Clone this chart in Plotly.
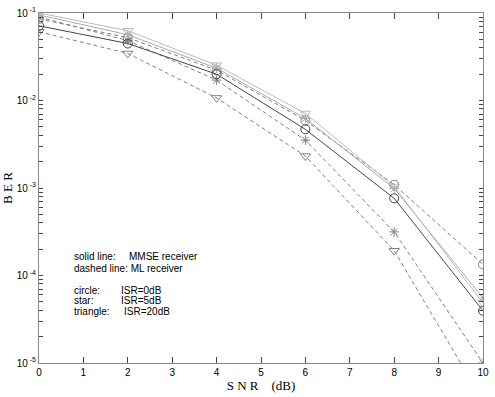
import plotly.graph_objects as go

snr = [0, 2, 4, 6, 8, 10]

mmse_isr0 = [0.0714, 0.0448, 0.0200, 0.00468, 0.000762, 3.95e-5]
mmse_isr5 = [0.095, 0.0565, 0.0234, 0.00623, 0.000987, 5.54e-5]
mmse_isr20 = [0.100, 0.0627, 0.0253, 0.0071, 0.00104, 4.87e-5]
ml_isr0 = [0.0856, 0.0523, 0.0222, 0.00591, 0.00109, 0.000134]
ml_isr5 = [0.090, 0.0484, 0.0171, 0.00352, 0.000315, 1.0e-5]
ml_isr20 = [0.0611, 0.0345, 0.0107, 0.00232, 0.000192, 3.7e-6]

ytick_vals = [1e-1, 1e-2, 1e-3, 1e-4, 1e-5]
ytick_text = ["10<sup> -1</sup>", "10<sup> -2</sup>", "10<sup> -3</sup>", "10<sup> -4</sup>", "10<sup> -5</sup>"]
ytick_minor = [k * 10.0 ** e for e in range(-5, -1) for k in range(2, 10)]
xtick_vals = list(range(0, 11))

series = [
    (ml_isr0, "dash", "#808080", "circle-open", 9),
    (ml_isr5, "dash", "#808080", "asterisk-open", 8),
    (ml_isr20, "dash", "#808080", "triangle-down-open", 9),
    (mmse_isr5, "solid", "#aaaaaa", "asterisk-open", 8),
    (mmse_isr20, "solid", "#bbbbbb", "triangle-down-open", 9),
    (mmse_isr0, "solid", "#444444", "circle-open", 9),
]

fig = go.Figure()
for ys, dash, color, sym, size in series:
    fig.add_trace(go.Scatter(
        x=snr, y=ys, mode="lines+markers",
        line=dict(color=color, width=1, dash=dash if dash == "solid" else "4px,3px"),
        marker=dict(symbol=sym, size=size, color=color, line=dict(color=color, width=1)),
        showlegend=False,
    ))

axis_common = dict(
    showline=True, linecolor="#888888", linewidth=1, mirror="allticks",
    ticks="inside", tickcolor="#444444", tickwidth=1, showgrid=False, zeroline=False,
    layer="above traces",
    tickfont=dict(family="Liberation Sans, Arial", size=10, color="black"),
)

fig.update_xaxes(range=[0, 10], tickvals=xtick_vals, ticklen=6,
                 title=dict(text="S&nbsp;N&nbsp;R&nbsp;&nbsp;&nbsp;&nbsp;(dB)", font=dict(family="Liberation Serif, Times New Roman", size=13, color="black"), standoff=2),
                 **axis_common)

all_y_ticks = ytick_vals + ytick_minor
all_y_text = ytick_text + [""] * len(ytick_minor)
fig.update_yaxes(type="log", range=[-5, -1], tickvals=all_y_ticks, ticktext=all_y_text, ticklen=4,
                 title=dict(text="B E R", font=dict(family="Liberation Serif, Times New Roman", size=13, color="black"), standoff=2),
                 **axis_common)

tf = dict(family="Liberation Sans, Arial", size=10, color="black")
labels = [
    ("solid line:", "MMSE receiver", 255, 127),
    ("dashed line:", "ML receiver", 267, None),
    ("circle:", "ISR=0dB", 289, 118),
    ("star:", "ISR=5dB", 300, 118),
    ("triangle:", "ISR=20dB", 311, 121),
]

W, H = 495, 397
L, R, T, B = 37, 6, 8, 34
pw, ph = W - L - R, H - T - B

def px(xp):
    return (xp - L) / pw

def py(yp):
    return 1 - (yp - T) / ph

for lab, val, ypx, xval in labels:
    if xval is None:
        fig.add_annotation(x=px(71), y=py(ypx), xref="paper", yref="paper",
                           text=lab + " " + val, showarrow=False, xanchor="left",
                           yanchor="middle", font=tf)
    else:
        fig.add_annotation(text=lab, showarrow=False, xanchor="left", yanchor="middle", font=tf,
                           xref="paper", yref="paper", x=px(71), y=py(ypx))
        fig.add_annotation(text=val, showarrow=False, xanchor="left", yanchor="middle", font=tf,
                           xref="paper", yref="paper", x=px(xval), y=py(ypx))

fig.update_layout(
    width=W, height=H,
    margin=dict(l=L, r=R, t=T, b=B),
    paper_bgcolor="white", plot_bgcolor="white",
)

fig.write_html("out.html", config={"displayModeBar": False},
               post_script="document.body.style.margin='0';document.body.style.overflow='hidden';")
